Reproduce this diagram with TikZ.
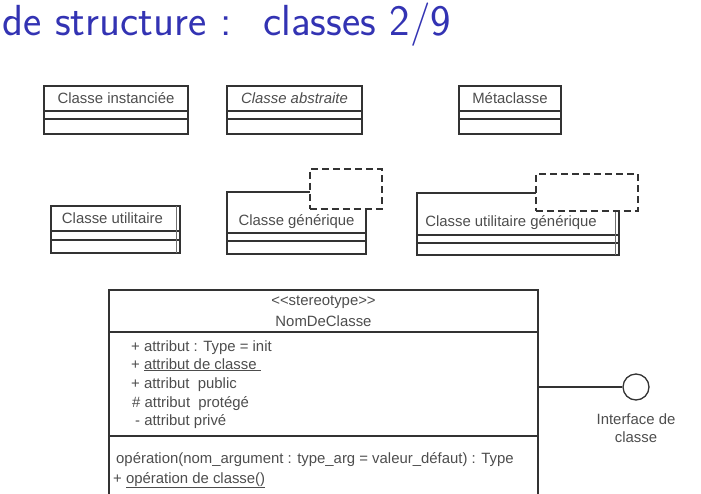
\documentclass[tikz,border=0pt]{standalone}
\usepackage{fontspec}
\setmainfont{Liberation Sans}
\usepackage{tikz}
\usetikzlibrary{positioning,calc}
\definecolor{titleblue}{HTML}{3333B3}
\definecolor{linec}{HTML}{333333}
\definecolor{textc}{HTML}{4D4D4D}
\tikzset{
  umltext/.style={font=\fontsize{14.9}{18}\selectfont,text=textc,inner sep=0pt},
  cname/.style={draw=linec,line width=1.4pt,inner sep=0pt,outer sep=0pt,
    minimum height=25pt,umltext,anchor=north west},
  ccomp/.style={draw=linec,line width=1.4pt,inner sep=0pt,outer sep=0pt,minimum height=8pt},
  tmpl/.style={draw=linec,line width=1.8pt,dash pattern=on 7pt off 4pt,fill=white,
    inner sep=0pt,anchor=north west},
  shadowline/.style={draw=linec!70,line width=1pt},
  attr/.style={umltext,anchor=base west},
  iface/.style={draw=linec,line width=1.3pt,circle,minimum size=26pt,inner sep=0pt},
  clsline/.style={draw=linec,line width=1.3pt},
}
\begin{document}
\begin{tikzpicture}[x=1pt,y=-1pt]
  \useasboundingbox (0,0) rectangle (701,493);
  \node[anchor=base west,inner sep=0pt,text=titleblue,
    font=\sffamily\fontsize{43.5}{50}\selectfont] (title) at (2,35)
    {de structure : \ classes 2/9};
  % simple classes
  \foreach \n/\x/\w/\t in {inst/44/144/{Classe instanciée},
      abst/227/135/{\itshape Classe abstraite},meta/459/102/{Métaclasse}}{
    \node[cname,minimum width=\w pt] (\n) at (\x,86) {\t};
    \node[ccomp,minimum width=\w pt,below=0pt of \n] (\n1) {};
    \node[ccomp,minimum width=\w pt,minimum height=15pt,below=0pt of \n1] (\n2) {};
  }
  % utility class
  \node[cname,minimum width=129pt] (util) at (51,206) {Classe utilitaire\hspace*{6pt}};
  \node[ccomp,minimum width=129pt,minimum height=9pt,below=0pt of util] (util1) {};
  \node[ccomp,minimum width=129pt,minimum height=13pt,below=0pt of util1] (util2) {};
  \draw[shadowline] ([xshift=-4pt]util.north east) -- ([xshift=-4pt]util2.south east);
  % generic class
  \node[cname,minimum width=139pt,minimum height=41pt,text height=33pt,text depth=8pt]
    (gen) at (227,192) {Classe générique};
  \node[ccomp,minimum width=139pt,below=0pt of gen] (gen1) {};
  \node[ccomp,minimum width=139pt,minimum height=13pt,below=0pt of gen1] (gen2) {};
  \node[tmpl,minimum width=72pt,minimum height=40pt] (gentpl) at (309,168) {};
  % generic utility class
  \node[cname,minimum width=202pt,minimum height=42pt,text height=33pt,text depth=9pt]
    (ugen) at (417,193) {Classe utilitaire générique\hspace*{14pt}};
  \node[ccomp,minimum width=202pt,below=0pt of ugen] (ugen1) {};
  \node[ccomp,minimum width=202pt,minimum height=12pt,below=0pt of ugen1] (ugen2) {};
  \draw[shadowline] ([xshift=-4pt]ugen.north east) -- ([xshift=-4pt]ugen2.south east);
  \node[tmpl,minimum width=102pt,minimum height=37pt] (ugentpl) at (535,173) {};
  % full class
  \node[cname,minimum width=429pt,minimum height=42pt,align=center,
    font=\fontsize{14.9}{21}\selectfont] (nom) at (109,290)
    {\textless\kern0pt\textless stereotype\textgreater\kern0pt\textgreater\\NomDeClasse};
  \node[ccomp,minimum width=429pt,minimum height=104pt,below=0pt of nom] (attrs) {};
  \node[ccomp,minimum width=429pt,minimum height=62pt,below=0pt of attrs] (ops) {};
  \node[attr] (a1) at (131,351) {+ attribut : Type = init};
  \node[attr] (a2) at (131,369) {+ \underline{attribut de classe\ }};
  \node[attr] (a3) at (131,388) {+ attribut\ \ public};
  \node[attr] (a4) at (132,407) {\# attribut\ \ protégé};
  \node[attr] (a5) at (135,425) {- attribut privé};
  \node[attr] (o1) at (116,463) {opération(nom\_argument : type\_arg = valeur\_défaut) : Type};
  \node[attr] (o2) at (113,483) {+ \underline{opération de classe()}};
  % interface
  \node[iface] (itf) at (636,387) {};
  \draw[clsline] (itf -| attrs.east) -- (itf);
  \node[umltext,align=center,below=13pt of itf] (itflbl) {Interface de\\classe};
\end{tikzpicture}
\end{document}
